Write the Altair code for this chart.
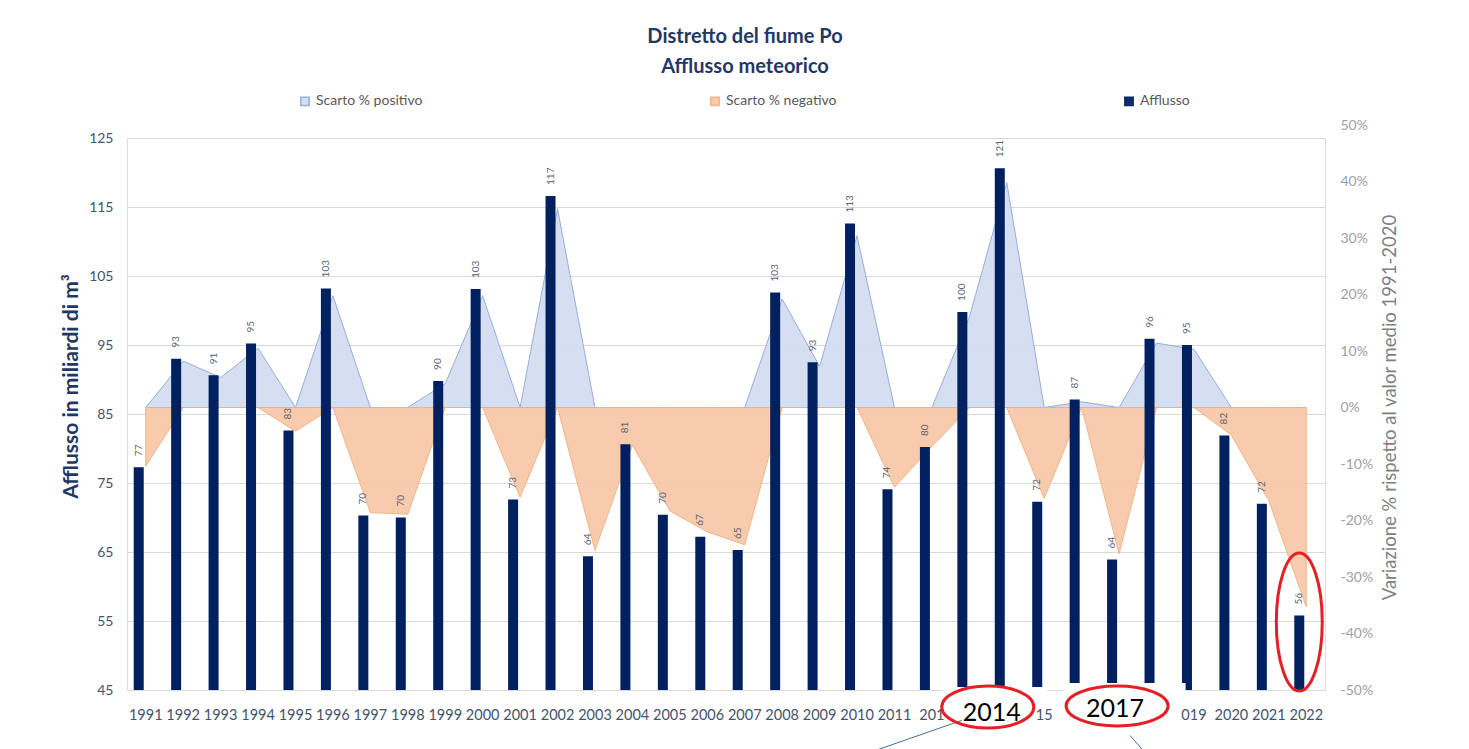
import altair as alt
import pandas as pd

# ---------------- data ----------------
anni = ["1991", "1992", "1993", "1994", "1995", "1996", "1997", "1998", "1999", "2000",
        "2001", "2002", "2003", "2004", "2005", "2006", "2007", "2008", "2009", "2010",
        "2011", "2012", "2013", "2014", "2015", "2016", "2017", "2018", "2019", "2020",
        "2021", "2022"]
afflusso = [77.3, 93.0, 90.6, 95.2, 82.6, 103.2, 70.3, 70.0, 89.8, 103.1,
            72.6, 116.6, 64.4, 80.6, 70.4, 67.2, 65.3, 102.6, 92.5, 112.6,
            74.1, 80.2, 99.8, 120.6, 72.3, 87.1, 63.9, 95.9, 95.0, 81.9,
            72.0, 55.8]
scarto_positivo = [0, 8.2, 5.3, 10.5, 0, 19.8, 0, 0, 4.2, 19.8,
                   0, 35.2, 0, 0, 0, 0, 0, 19.2, 7.3, 30.4,
                   0, 0, 16.0, 39.8, 0, 1.0, 0, 11.4, 10.3, 0,
                   0, 0]
scarto_negativo = [-10.4, 0, 0, 0, -4.2, 0, -18.6, -18.9, 0, 0,
                   -15.9, 0, -25.3, -6.7, -18.3, -22.0, -24.3, 0, 0, 0,
                   -14.1, -6.9, 0, 0, -16.1, 0, -25.9, 0, 0, -4.9,
                   -16.5, -35.3]

# x tick labels partly hidden by the white boxes pasted over the screenshot
FS = "\u2007"  # figure space (digit width)
etichette_coperte = {
    "2012": "201" + FS, "2013": "", "2014": "", "2015": FS + FS + "15",
    "2016": "", "2017": "", "2018": "", "2019": FS + "019",
}

serie_pos = "Scarto % positivo"
serie_neg = "Scarto % negativo"
serie_bar = "Afflusso"
serie = [serie_pos, serie_neg, serie_bar]
colori_fill = ["#d4def1", "#f7c9a8", "#002060"]
colori_stroke = ["#8faadc", "#f4b183", "#002060"]

# annotations (overlay on the screenshot)
ell_anni = ["2022", "2014", "2017"]
ell_y = [54.86, 42.54, 42.68]
box_anni = ["2014", "2017"]
box_top = [45.43, 46.0]
box_bottom = [44.4, 44.4]
ann_anni = ["2014", "2017"]
ann_testo = ["2014", "2017"]
ann_y = [41.6, 42.2]
linea_anni = ["2014", "2017"]
linea_y = [40.6, 38.4]
linea_y2 = [36.0, 35.6]

df_bar = pd.DataFrame({"anno": anni, "afflusso": afflusso, "serie": [serie_bar] * len(anni)})
df_area = pd.DataFrame({
    "anno": anni + anni,
    "scarto": [v / 100 for v in scarto_positivo] + [v / 100 for v in scarto_negativo],
    "serie": [serie_pos] * len(anni) + [serie_neg] * len(anni),
})

FONT = "Lato"

label_expr = "datum.label"
for k, v in etichette_coperte.items():
    label_expr = f"datum.label == '{k}' ? '{v}' : ({label_expr})"

x_enc = alt.X(
    "anno:O",
    scale=alt.Scale(paddingInner=0, paddingOuter=0),
    axis=alt.Axis(title=None, labelAngle=0, labelFontSize=14.5, labelColor="#44546a",
                  labelPadding=18, ticks=False, domain=True, domainColor="#d9d9d9",
                  labelFont=FONT, labelExpr=label_expr),
)

left_scale = alt.Scale(domain=[45, 125], nice=False, zero=False)
left_axis = alt.Axis(
    title="Afflusso in miliardi di m³", orient="left", values=[45, 55, 65, 75, 85, 95, 105, 115, 125],
    grid=True, gridColor="#d9d9d9", domain=False, ticks=False,
    labelFontSize=14, labelColor="#44546a", labelPadding=14, labelFont=FONT,
    titleFontSize=21, titleColor="#1f3864", titleFontWeight="bold", titleFont=FONT,
    titlePadding=7, titleY=248,
)


def y_left(field):
    return alt.Y(field, type="quantitative", scale=left_scale, axis=left_axis)


color_enc = alt.Color(
    "serie:N",
    scale=alt.Scale(domain=serie, range=colori_fill),
    legend=alt.Legend(
        title=None, orient="none", legendX=171, legendY=-44, direction="horizontal",
        symbolType="square", symbolSize=70,
        labelFontSize=14, labelColor="#595959", labelFont=FONT,
        columnPadding=284, padding=0, labelOffset=4,
    ),
)

# ---------------- area (right axis) ----------------
area = alt.Chart(df_area).mark_area(strokeWidth=1, opacity=0.95).encode(
    x=x_enc,
    y=alt.Y("scarto:Q", stack=None,
            scale=alt.Scale(domain=[-0.5, 0.5], nice=False, range=[552, -13]),
            axis=alt.Axis(
                title="Variazione % rispetto al valor medio 1991-2020", orient="right",
                values=[-0.5, -0.4, -0.3, -0.2, -0.1, 0, 0.1, 0.2, 0.3, 0.4, 0.5],
                format=".0%", labelExpr="replace(datum.label, '\u2212', '-')",
                grid=False, domain=False, ticks=False,
                labelFontSize=14, labelColor="#a0a0a0", labelPadding=15, labelFont=FONT,
                titleFontSize=18.5, titleColor="#7f7f7f", titleFontWeight="normal", titleFont=FONT,
                titleAngle=270, titlePadding=27, titleY=269)),
    color=color_enc,
    stroke=alt.Stroke("serie:N", scale=alt.Scale(domain=serie, range=colori_stroke), legend=None),
    order=alt.Order("serie:N"),
)

# ---------------- bars (left axis) ----------------
bars = alt.Chart(df_bar).mark_bar(size=10, xOffset=-7).encode(
    x=x_enc,
    y=y_left("afflusso"),
    y2=alt.datum(45),
    color=color_enc,
)

labels = alt.Chart(df_bar).mark_text(
    angle=270, align="left", baseline="middle", dx=11, xOffset=-7,
    fontSize=10, color="#5a6478", font=FONT,
).encode(
    x=x_enc,
    y=y_left("afflusso"),
    text=alt.Text("afflusso:Q", format=".0f"),
)

# ---------------- annotation overlay ----------------
df_box = pd.DataFrame({"anno": box_anni, "top": box_top, "bottom": box_bottom})
box_a = alt.Chart(df_box.iloc[[0]]).mark_bar(width=105, xOffset=-12, color="white").encode(
    x=x_enc, y=y_left("top"), y2=alt.Y2("bottom:Q"))
box_b = alt.Chart(df_box.iloc[[1]]).mark_bar(width=123, xOffset=5, color="white").encode(
    x=x_enc, y=y_left("top"), y2=alt.Y2("bottom:Q"))

df_ann = pd.DataFrame({"anno": ann_anni, "testo": ann_testo, "y": ann_y})
ann_a = alt.Chart(df_ann.iloc[[0]]).mark_text(
    fontSize=25, color="black", font=FONT, xOffset=-15,
).encode(x=x_enc, y=y_left("y"), text="testo:N")
ann_b = alt.Chart(df_ann.iloc[[1]]).mark_text(
    fontSize=25, color="black", font=FONT, xOffset=-4,
).encode(x=x_enc, y=y_left("y"), text="testo:N")

df_lin = pd.DataFrame({"anno": linea_anni, "y": linea_y, "y2": linea_y2})
lin_a = alt.Chart(df_lin.iloc[[0]]).mark_rule(
    color="#41719c", strokeWidth=1, xOffset=-45, x2Offset=-136).encode(
    x=x_enc, x2=alt.X2("anno:O"), y=y_left("y"), y2=alt.Y2("y2:Q"))
lin_b = alt.Chart(df_lin.iloc[[1]]).mark_rule(
    color="#41719c", strokeWidth=1, xOffset=11, x2Offset=28).encode(
    x=x_enc, x2=alt.X2("anno:O"), y=y_left("y"), y2=alt.Y2("y2:Q"))

df_ell = pd.DataFrame({"anno": ell_anni, "y": ell_y})
path_2022 = "M 0 -1 A 0.333 1 0 1 1 0 1 A 0.333 1 0 1 1 0 -1 Z"
path_2014 = "M -1 0 A 1 0.457 0 1 1 1 0 A 1 0.457 0 1 1 -1 0 Z"
path_2017 = "M -1 0 A 1 0.39 0 1 1 1 0 A 1 0.39 0 1 1 -1 0 Z"


def ellisse(i, path, size, xoff):
    return alt.Chart(df_ell.iloc[[i]]).mark_point(
        shape=path, size=size, xOffset=xoff, filled=False, stroke="#e61e25",
        strokeWidth=3, opacity=1,
    ).encode(x=x_enc, y=y_left("y"))


ell_a = ellisse(0, path_2022, 19044, -7)
ell_b = ellisse(1, path_2014, 8464, -19)
ell_c = ellisse(2, path_2017, 10404, -2)

left = alt.layer(bars, labels, box_a, box_b, lin_a, lin_b, ann_a, ann_b, ell_a, ell_b, ell_c)

chart = alt.layer(area, left).resolve_scale(y="independent").properties(
    width=1198, height=552,
    padding={"left": 119, "top": 130, "right": 136, "bottom": 59},
    autosize=alt.AutoSizeParams(type="none"),
    title=alt.TitleParams(
        ["Distretto del fiume Po", "Afflusso meteorico"],
        fontSize=20, font=FONT, fontWeight="bold", color="#1f3864",
        anchor="middle", frame="group", dx=19, offset=17, lineHeight=30,
    ),
).configure_view(stroke=None).configure(background="white")

chart.save("out.html", embed_options={"renderer": "svg", "actions": False})
